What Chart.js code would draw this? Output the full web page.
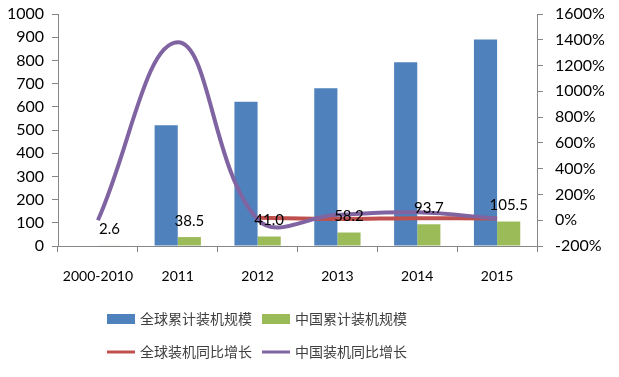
<!DOCTYPE html>
<html>
<head>
<meta charset="utf-8">
<script src="https://cdn.jsdelivr.net/npm/chart.js@4/dist/chart.umd.min.js"></script>
<style>
  body { margin: 0; background: #fff; }
  #wrap { width: 619px; height: 377px; }
</style>
</head>
<body>
<div id="wrap"><canvas id="pvChart" width="619" height="377"></canvas></div>
<script>
const years = ["2000-2010", "2011", "2012", "2013", "2014", "2015"];
const globalTotal = [null, 520, 622, 680, 792, 890];
const chinaTotal = [2.6, 38.5, 41.0, 58.2, 93.7, 105.5];
const globalGrowth = [null, null, 19, 10, 16, 13];
const chinaGrowth = [0, 1380, 6.5, 42, 61, 12.6];

const leftTicks = [0, 100, 200, 300, 400, 500, 600, 700, 800, 900, 1000];
const rightTicks = [-200, 0, 200, 400, 600, 800, 1000, 1200, 1400, 1600];

const xFont = { family: "Lato", size: 14 };
const yFont = { family: "Lato", size: 16 };
const axisGray = "#868686";

// labels above the green bars
const barLabels = {
  id: "barLabels",
  afterDatasetsDraw(chart) {
    const ctx = chart.ctx;
    const meta = chart.getDatasetMeta(1);
    ctx.save();
    ctx.font = "15px Lato";
    ctx.fillStyle = "#000";
    ctx.textAlign = "center";
    ctx.textBaseline = "middle";
    meta.data.forEach((bar, i) => {
      ctx.fillText(chinaTotal[i].toFixed(1), bar.x, bar.y - 16);
    });
    ctx.restore();
  },
};

// two-row legend like the original
const twoRowLegend = {
  id: "twoRowLegend",
  afterDraw(chart) {
    const ctx = chart.ctx;
    const ds = chart.data.datasets;
    const spots = [
      { x: 107, y: 319 },
      { x: 262, y: 319 },
      { x: 107, y: 352 },
      { x: 262, y: 352 },
    ];
    ctx.save();
    ctx.font = '14px "Noto Sans CJK SC"';
    ctx.textBaseline = "middle";
    spots.forEach((s, i) => {
      const d = ds[i];
      if (d.type === "line") {
        ctx.strokeStyle = d.borderColor;
        ctx.lineWidth = 3;
        ctx.beginPath();
        ctx.moveTo(s.x, s.y);
        ctx.lineTo(s.x + 28, s.y);
        ctx.stroke();
      } else {
        ctx.fillStyle = d.backgroundColor;
        ctx.fillRect(s.x, s.y - 5, 28, 10);
      }
      ctx.fillStyle = "#404040";
      ctx.fillText(d.label, s.x + 33, s.y);
    });
    ctx.restore();
  },
};

function fitY(width) {
  return (scale) => {
    scale.width = width;
    scale.paddingTop = 0;
    scale.paddingBottom = 0;
  };
}

new Chart(document.getElementById("pvChart"), {
  data: {
    labels: years,
    datasets: [
      {
        type: "bar",
        label: "全球累计装机规模",
        data: globalTotal,
        backgroundColor: "#4F81BD",
        yAxisID: "y",
        order: 2,
      },
      {
        type: "bar",
        label: "中国累计装机规模",
        data: chinaTotal,
        backgroundColor: "#9BBB59",
        yAxisID: "y",
        order: 3,
      },
      {
        type: "line",
        label: "全球装机同比增长",
        data: globalGrowth,
        borderColor: "#C0504D",
        borderWidth: 4,
        pointRadius: 0,
        tension: 0.4,
        yAxisID: "y1",
        order: 1,
      },
      {
        type: "line",
        label: "中国装机同比增长",
        data: chinaGrowth,
        borderColor: "#8064A2",
        borderWidth: 4,
        pointRadius: 0,
        tension: 0.4,
        yAxisID: "y1",
        order: 0,
      },
    ],
  },
  options: {
    responsive: false,
    animation: false,
    categoryPercentage: 0.58,
    barPercentage: 1,
    layout: { padding: { top: 14 } },
    plugins: {
      legend: { display: false },
      tooltip: { enabled: false },
    },
    scales: {
      x: {
        offset: true,
        grid: {
          offset: true,
          drawOnChartArea: false,
          color: axisGray,
          tickLength: 6,
        },
        border: { color: axisGray },
        ticks: { font: xFont, color: "#000", padding: 16 },
        afterFit(scale) {
          scale.height = 131;
          scale.paddingLeft = 0;
          scale.paddingRight = 0;
        },
      },
      y: {
        position: "left",
        min: 0,
        max: 1000,
        afterBuildTicks(scale) { scale.ticks = leftTicks.map((v) => ({ value: v })); },
        grid: { drawOnChartArea: false, color: axisGray, tickLength: 6 },
        border: { color: axisGray },
        ticks: { font: yFont, color: "#000", padding: 8, callback: (v) => String(v) },
        afterFit: fitY(58),
      },
      y1: {
        position: "right",
        min: -200,
        max: 1600,
        afterBuildTicks(scale) { scale.ticks = rightTicks.map((v) => ({ value: v })); },
        grid: { drawOnChartArea: false, color: axisGray, tickLength: 6 },
        border: { color: axisGray },
        ticks: {
          font: yFont,
          color: "#000",
          padding: 12,
          callback: (v) => v + "%",
        },
        afterFit: fitY(82),
      },
    },
  },
  plugins: [barLabels, twoRowLegend],
});
</script>
</body>
</html>
